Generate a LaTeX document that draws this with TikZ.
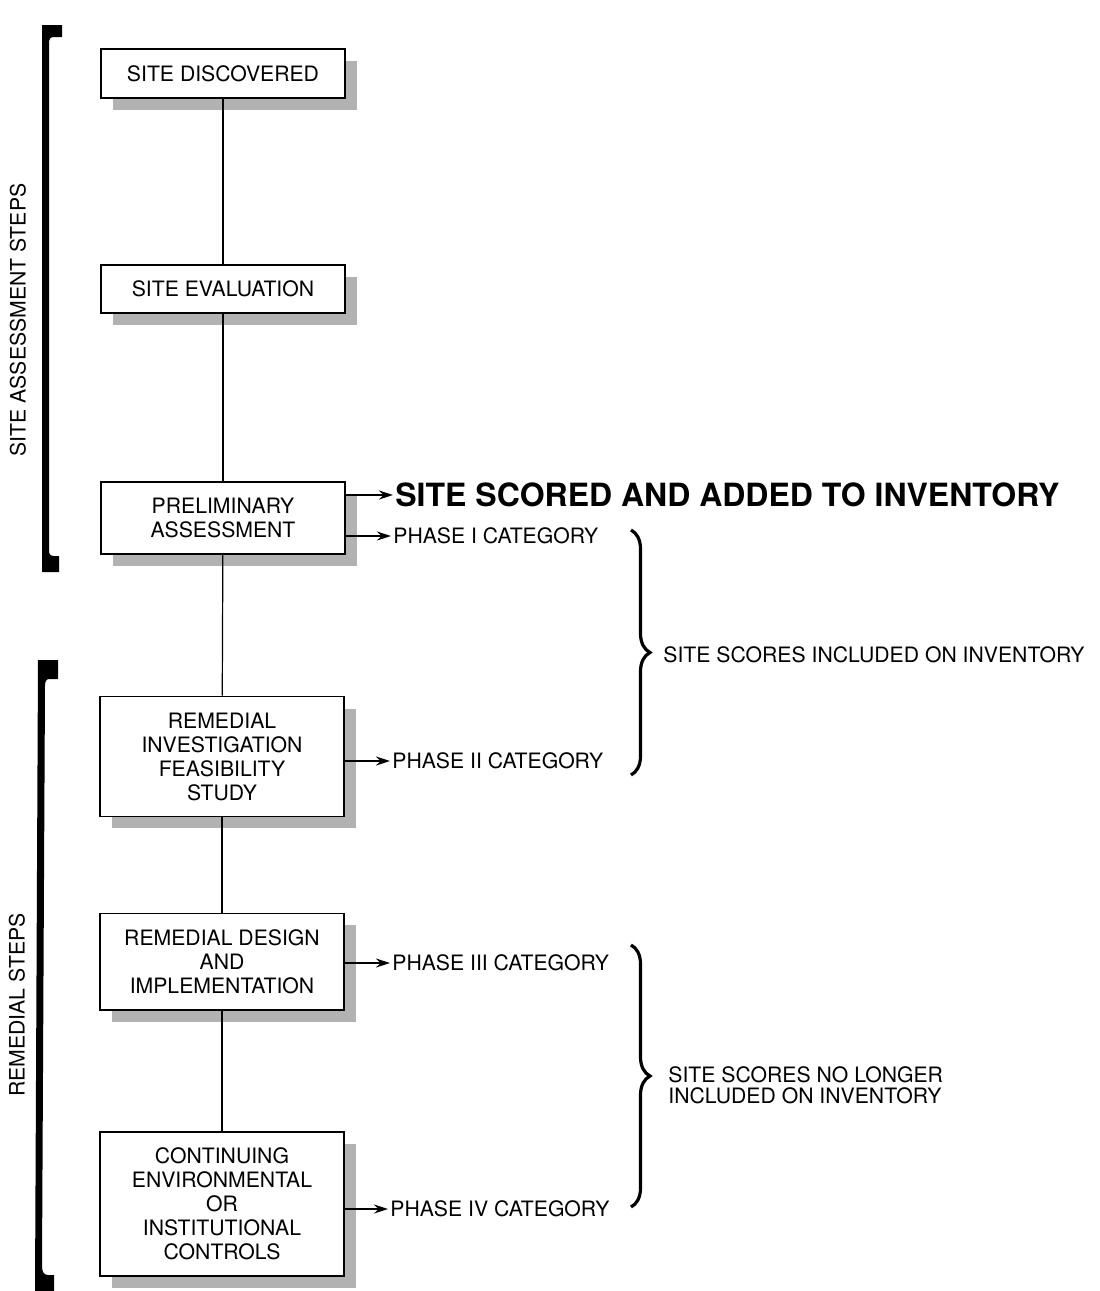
\documentclass[tikz,border=0pt]{standalone}
\usepackage{fontspec}
\setmainfont{TeX Gyre Heros}
\usetikzlibrary{arrows.meta,shadows,decorations.pathreplacing}

\begin{document}
\begin{tikzpicture}[x=0.5pt, y=-0.5pt,
  stepbox/.style={draw, rectangle, line width=0.9pt, fill=white, align=center,
                  minimum width=122pt, inner ysep=8pt,
                  font=\fontsize{10.6}{12}\selectfont,
                  drop shadow={shadow xshift=6pt, shadow yshift=-6pt,
                               fill=black!30, opacity=1}},
  phase/.style={anchor=west, inner sep=1pt, font=\fontsize{10.6}{12}\selectfont},
  link/.style={line width=0.6pt},
  tip/.style={line width=0.7pt, -{Stealth[length=7pt, width=4.5pt]}},
  curly/.style={line width=1.6pt, decorate, decoration={brace, amplitude=9.5pt}}]
  \useasboundingbox (0,0) rectangle (1099,1291);

  % the steps
  \node (disc)   [stepbox] at (223,73.5)  {SITE DISCOVERED};
  \node (eval)   [stepbox] at (223,289)   {SITE EVALUATION};
  \node (prelim) [stepbox] at (223,518)   {PRELIMINARY\\ASSESSMENT};
  \node (rifs)   [stepbox] at (222,756.5) {REMEDIAL\\INVESTIGATION\\FEASIBILITY\\STUDY};
  \node (design) [stepbox] at (222,961.5) {REMEDIAL DESIGN\\AND\\IMPLEMENTATION};
  \node (ctrl)   [stepbox] at (222,1204)  {CONTINUING\\ENVIRONMENTAL\\OR\\INSTITUTIONAL\\CONTROLS};

  \draw[link] (disc)   -- (eval);
  \draw[link] (eval)   -- (prelim);
  \draw[link] (prelim) -- (rifs);
  \draw[link] (rifs)   -- (design);
  \draw[link] (design) -- (ctrl);

  % outcomes
  \node (scored) [phase, font=\fontsize{16}{20}\selectfont\bfseries]
                 at (393,495) {SITE SCORED AND ADDED TO INVENTORY};
  \node (p1) [phase] at (391,536)  {PHASE I CATEGORY};
  \node (p2) [phase] at (390,761)  {PHASE II CATEGORY};
  \node (p3) [phase] at (390,963)  {PHASE III CATEGORY};
  \node (p4) [phase] at (388,1209) {PHASE IV CATEGORY};

  \draw[tip] (prelim.east |- scored.west) -- (scored.west);
  \draw[tip] (prelim.east |- p1.west) -- (p1.west);
  \draw[tip] (rifs.east |- p2.west)   -- (p2.west);
  \draw[tip] (design.east |- p3.west) -- (p3.west);
  \draw[tip] (ctrl.east |- p4.west)   -- (p4.west);

  % braces on the right
  \coordinate (b1top) at (631,530);
  \coordinate (b1bot) at (631,775);
  \coordinate (b2top) at (631,945);
  \coordinate (b2bot) at (631,1207);
  \draw[curly] (b1top) -- (b1bot);
  \draw[curly] (b2top) -- (b2bot);
  \node (inc)   [phase] at (661,655) {SITE SCORES INCLUDED ON INVENTORY};
  \node (noinc) [phase, align=left, font=\fontsize{10.6}{10.5}\selectfont]
                at (666,1085) {SITE SCORES NO LONGER\\INCLUDED ON INVENTORY};

  % brackets on the left
  \fill (42,25) -- (62,25) -- (62,37) -- (54,37)
        .. controls (50,37) and (49,39) .. (49,44) -- (49,550)
        .. controls (49,554) and (50,556) .. (54,556)
        -- (59,556) -- (59,572) -- (42,572) -- cycle;
  \fill (38,660) -- (58,660) -- (58,679) -- (49,679)
        .. controls (46,679) and (45,682) .. (45,686) -- (42,1266)
        .. controls (42,1272) and (44,1275) .. (48,1275)
        -- (54,1275) -- (54,1291) -- (35,1291) -- cycle;
  \node (assess) [rotate=90, font=\fontsize{10.6}{12}\selectfont]
                 at (18,320) {SITE ASSESSMENT STEPS};
  \node (remed)  [rotate=90, font=\fontsize{10.6}{12}\selectfont]
                 at (17,1005) {REMEDIAL STEPS};
\end{tikzpicture}
\end{document}
